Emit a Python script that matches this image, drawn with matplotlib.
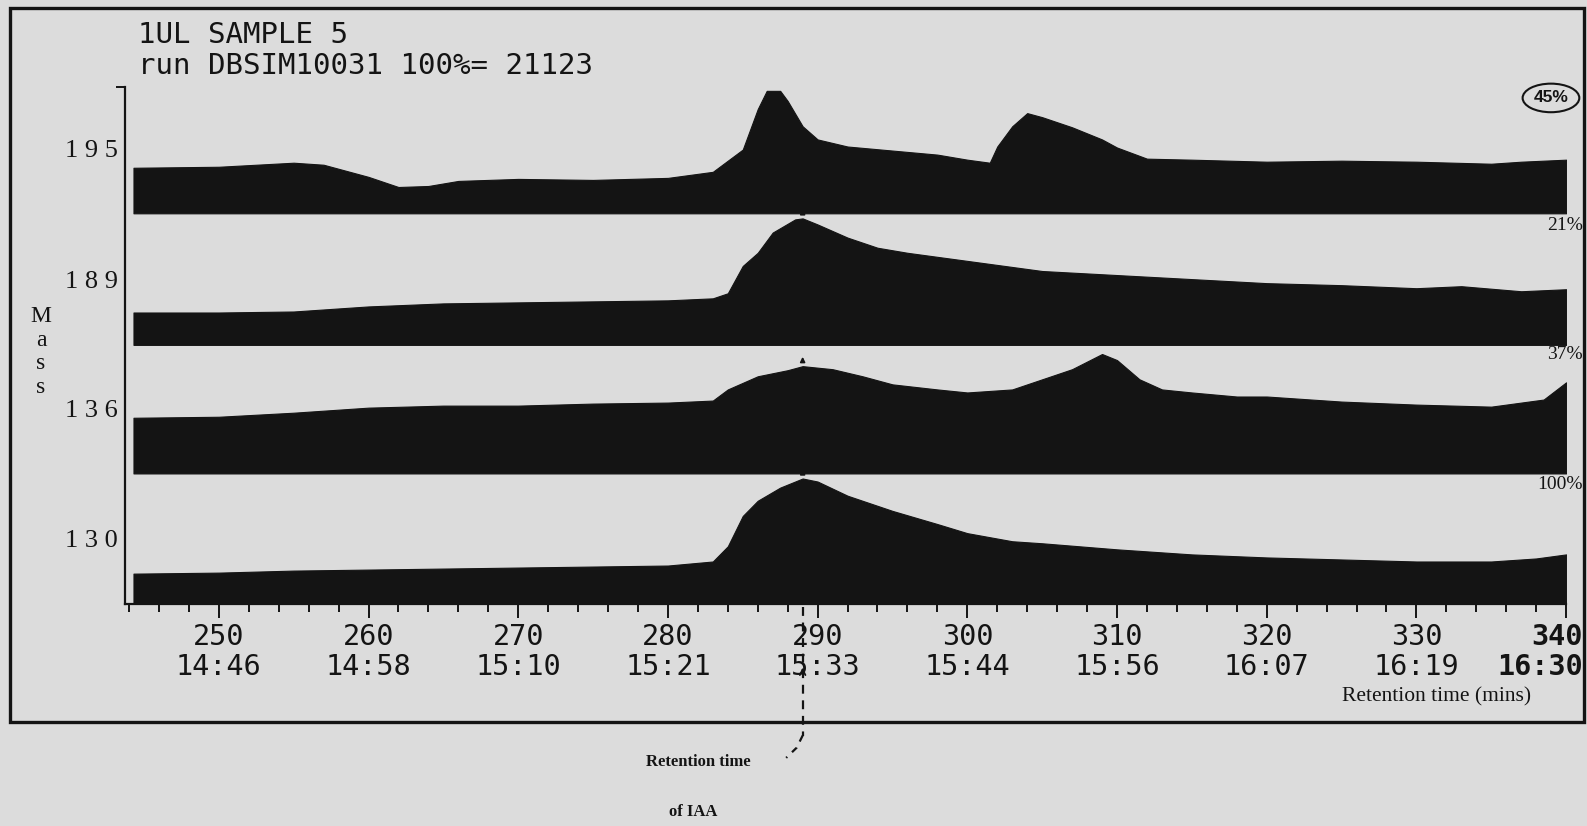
import matplotlib.pyplot as plt
import matplotlib.transforms as mtransforms
import numpy as np

# ion traces (retention time in scans, relative abundance)
t_195 = [244.3, 250, 255, 257, 260, 262, 264, 266, 270, 275, 280, 283, 285, 286, 286.6, 287.5,
         288, 289, 290, 292, 295, 298, 300, 301.5, 302, 303, 304, 305, 307, 309, 310, 312,
         315, 320, 325, 330, 335, 337, 340]
i_195 = [45, 46, 50, 48, 36, 26, 27, 32, 34, 33, 35, 41, 63, 103, 121, 121,
         111, 86, 73, 66, 62, 58, 53, 50, 66, 86, 99, 95, 85, 73, 65, 54,
         53, 51, 52, 51, 49, 51, 53]

t_189 = [244.3, 250, 255, 260, 265, 270, 275, 280, 283, 284, 285, 286, 287, 288.5, 289, 290,
         292, 294, 296, 300, 305, 310, 315, 320, 325, 330, 333, 337, 340]
i_189 = [32, 32, 33, 38, 41, 42, 43, 44, 46, 51, 78, 91, 111, 124, 125, 119,
         106, 96, 91, 83, 73, 69, 65, 61, 59, 56, 58, 53, 55]

t_136 = [244.3, 250, 255, 260, 265, 270, 275, 280, 283, 284, 286, 288, 289, 291, 293, 295,
         298, 300, 303, 305, 307, 309, 310, 311.5, 313, 315, 318, 320, 325, 330, 335, 337,
         338.5, 340]
i_136 = [55, 56, 60, 65, 67, 67, 69, 70, 72, 83, 96, 102, 106, 103, 96, 88,
         83, 80, 83, 93, 103, 118, 112, 93, 83, 80, 76, 76, 71, 68, 66, 70,
         73, 90]

t_130 = [244.3, 250, 255, 260, 265, 270, 275, 280, 283, 284, 285, 286, 287.5, 289, 290, 292,
         295, 298, 300, 303, 305, 310, 315, 320, 325, 330, 335, 338, 340]
i_130 = [30, 31, 33, 34, 35, 36, 37, 38, 42, 57, 87, 102, 115, 124, 121, 107,
         92, 79, 70, 62, 60, 54, 49, 46, 44, 42, 42, 45, 49]

masses = ['195', '189', '136', '130']
scales = ['45%', '21%', '37%', '100%']
traces = [(t_195, i_195), (t_189, i_189), (t_136, i_136), (t_130, i_130)]
offsets = [386, 256, 129, 0]

scan_ticks = [250, 260, 270, 280, 290, 300, 310, 320, 330, 340]
time_ticks = ['14:46', '14:58', '15:10', '15:21', '15:33', '15:44', '15:56', '16:07', '16:19', '16:30']
iaa_scan = 289

bg = '#dcdcdc'
ink = '#141414'

fig = plt.figure(figsize=(15.87, 8.26), dpi=100, facecolor=bg)
ax = fig.add_axes([124.5 / 1587, 222 / 826, 1441.6 / 1587, 517.2 / 826])
ax.set_facecolor('none')
ax.set_xlim(243.7, 340)
ax.set_ylim(0, 511)

for (t, i), off in zip(traces, offsets):
    t = np.array(t)
    i = np.array(i)
    ax.fill_between(t, off, off + i, color=ink, lw=0.8, ec=ink)

for s in ['top', 'right']:
    ax.spines[s].set_visible(False)
for s in ['left', 'bottom']:
    ax.spines[s].set_linewidth(1.6)
    ax.spines[s].set_color(ink)

mono = 'DejaVu Sans Mono'
ax.set_xticks(scan_ticks)
ax.set_xticklabels([f'{a}\n{b}' for a, b in zip(scan_ticks, time_ticks)],
                   family=mono, fontsize=20.5, linespacing=1.08, color=ink)
ax.set_xticks(np.arange(244, 341, 2), minor=True)
ax.tick_params(axis='x', which='major', length=10, width=1.4, pad=4, color=ink)
ax.tick_params(axis='x', which='minor', length=5.5, width=1.4, color=ink)
last = ax.get_xticklabels()[-1]
last.set_horizontalalignment('right')
last.set_fontweight('bold')
last.set_transform(last.get_transform() + mtransforms.ScaledTranslation(0.17, 0, fig.dpi_scale_trans))
ax.set_yticks([511])
ax.set_yticklabels([])
ax.tick_params(axis='y', length=6.5, width=1.4, color=ink)

# mass labels and scale factors
blend = mtransforms.blended_transform_factory(ax.transAxes, ax.transData)
for m, sc, off in zip(masses, scales, offsets):
    ax.text(-0.0045, off + 62, ' '.join(m), transform=blend, ha='right', va='center',
            family='Liberation Serif', fontsize=19, color=ink)
    if sc == '45%':
        ax.text(0.9895, off + 114, sc, transform=blend, ha='center', va='center',
                family='Liberation Sans', fontsize=12.5, fontweight='bold', color=ink,
                bbox=dict(boxstyle='ellipse,pad=0.15', fc='none', ec=ink, lw=1.5))
    else:
        ax.text(1.0115, off + 118, sc, transform=blend, ha='right', va='center',
                family='Liberation Serif', fontsize=14, color=ink)

ax.text(-0.058, 249, 'M\na\ns\ns', transform=blend, ha='center', va='center',
        family='Liberation Serif', fontsize=17, linespacing=1.15, color=ink)

# retention time markers for IAA
for (t, i), off in zip(traces[1:], offsets[1:]):
    top = off + np.interp(iaa_scan, t, i)
    ax.annotate('', xy=(iaa_scan, top + 12), xytext=(iaa_scan, top + 2),
                arrowprops=dict(arrowstyle='-|>', lw=1.2, color=ink, mutation_scale=7))
ax.plot([iaa_scan, iaa_scan], [-3, -130], ls=(0, (4, 3)), lw=1.6, color=ink, clip_on=False)
ax.plot([iaa_scan, iaa_scan - 0.4, iaa_scan - 1.1], [-130, -142, -152],
        ls=(0, (3, 3)), lw=1.6, color=ink, clip_on=False)
ax.annotate('', xy=(iaa_scan, -60), xytext=(iaa_scan, -72),
            arrowprops=dict(arrowstyle='->', lw=1.3, color=ink, mutation_scale=10),
            annotation_clip=False)

# overlay for frame and free text
ov = fig.add_axes([0, 0, 1, 1], zorder=5)
ov.set_xlim(0, 1587)
ov.set_ylim(826, 0)
ov.axis('off')
ov.add_patch(plt.Rectangle((10, 8), 1574, 714, fill=False, ec=ink, lw=2.4))
ov.text(138, 35, '1UL SAMPLE 5', family=mono, fontsize=21, va='center', color=ink)
ov.text(138, 66, 'run DBSIM10031 100%= 21123', family=mono, fontsize=21, va='center', color=ink)
ov.text(1437, 697, 'Retention time (mins)', family='Liberation Serif', fontsize=15.5,
        ha='center', va='center', color=ink)
ov.text(698, 762, 'Retention time', family='Liberation Serif', fontsize=12, fontweight='bold',
        ha='center', va='center', color=ink)
ov.text(693, 812, 'of IAA', family='Liberation Serif', fontsize=12, fontweight='bold',
        ha='center', va='center', color=ink)

fig.savefig('out.png', dpi=100, facecolor=bg)
